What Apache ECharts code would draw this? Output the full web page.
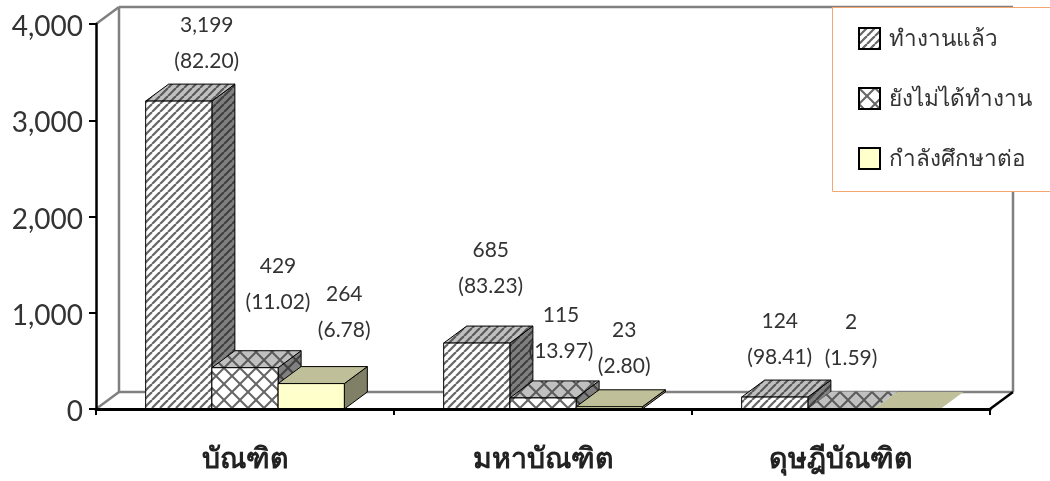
<!DOCTYPE html>
<html><head><meta charset="utf-8">
<style>html,body{margin:0;padding:0;background:#fff}#c{width:1050px;height:481px}</style>
<script src="https://cdn.jsdelivr.net/npm/echarts@6/dist/echarts.min.js"></script>
</head><body><div id="c"></div>
<script>
const categories = ['บัณฑิต', 'มหาบัณฑิต', 'ดุษฎีบัณฑิต'];
const seriesNames = ['ทำงานแล้ว', 'ยังไม่ได้ทำงาน', 'กำลังศึกษาต่อ'];
const employed = [3199, 685, 124];
const notEmployed = [429, 115, 2];
const studying = [264, 23, 0];
const employedPct = ['82.20', '83.23', '98.41'];
const notEmployedPct = ['11.02', '13.97', '1.59'];
const studyingPct = ['6.78', '2.80', null];

const FONT = 'Lato, "Noto Sans", sans-serif';
const DEPTH_X = 23, DEPTH_Y = 17;

function hatch(size, bg, ink, width, cross) {
  const c = document.createElement('canvas');
  c.width = c.height = size;
  const g = c.getContext('2d');
  g.fillStyle = bg; g.fillRect(0, 0, size, size);
  g.strokeStyle = ink; g.lineWidth = width;
  const up = () => { for (let k = -size; k <= size; k += size) { g.beginPath(); g.moveTo(k, size); g.lineTo(k + size, 0); g.stroke(); } };
  const down = () => { for (let k = -size; k <= size; k += size) { g.beginPath(); g.moveTo(k, 0); g.lineTo(k + size, size); g.stroke(); } };
  up(); if (cross) down();
  return { image: c, repeat: 'repeat' };
}
const styles = [
  { front: hatch(8, '#ffffff', '#666666', 2.2), top: hatch(8, '#c0c0c0', '#5a5a5a', 2.2), side: hatch(8, '#808080', '#404040', 2.2) },
  { front: hatch(16, '#ffffff', '#666666', 2, true), top: hatch(16, '#c0c0c0', '#5a5a5a', 2, true), side: hatch(16, '#808080', '#404040', 2, true) },
  { front: '#ffffcc', top: '#bfbf99', side: '#808066' }
];

/* Hand-placed data labels: offset of the label centre from the bar's front top centre */
const labelShift = [
  [[28, -58], [14, -74.5], [5, -57.5]],
  [[33, -83], [18, -65], [10, -69]],
  [[33, -71], [15, -59], [0, 0]]
];

function barSeries(idx, values, pcts) {
  const st = styles[idx];
  return {
    name: seriesNames[idx],
    type: 'custom',
    z: 3,
    itemStyle: { color: st.front, borderColor: '#000', borderWidth: 1 },
    encode: { x: 0, y: 1 },
    data: values.map((v, i) => [i, v]),
    renderItem(params, api) {
      const cat = api.value(0), val = api.value(1);
      const bandW = api.size([1, 0])[0];
      const w = bandW / 4.5;
      const base = api.coord([cat, 0]);
      const top = api.coord([cat, val]);
      const x0 = base[0] + (idx - 1.5) * w, x1 = x0 + w;
      const y0 = base[1], y1 = top[1];
      const tall = y0 - y1 >= 1.5;
      const ln = tall ? { stroke: '#000', lineWidth: 1 } : { stroke: null };
      const children = [
        { type: 'polygon', shape: { points: [[x1, y0], [x1 + DEPTH_X, y0 - DEPTH_Y], [x1 + DEPTH_X, y1 - DEPTH_Y], [x1, y1]] }, style: Object.assign({ fill: st.side }, ln) },
        { type: 'polygon', shape: { points: [[x0, y1], [x0 + DEPTH_X, y1 - DEPTH_Y], [x1 + DEPTH_X, y1 - DEPTH_Y], [x1, y1]] }, style: Object.assign({ fill: st.top }, ln) },
        { type: 'rect', shape: { x: x0, y: y1, width: w, height: y0 - y1 }, style: Object.assign({ fill: st.front }, ln) }
      ];
      if (pcts[cat] !== null) {
        const s = labelShift[idx][cat];
        const cx = (x0 + x1) / 2 + s[0], cy = y1 + s[1];
        const txt = { font: '21px ' + FONT, fill: '#333', align: 'center', verticalAlign: 'middle' };
        children.push({ type: 'text', z2: 50, silent: true, style: Object.assign({ x: cx, y: cy - 18, text: val.toLocaleString('en-US') }, txt) });
        children.push({ type: 'text', z2: 50, silent: true, style: Object.assign({ x: cx, y: cy + 18, text: '(' + pcts[cat] + ')' }, txt) });
      }
      return { type: 'group', children };
    }
  };
}

const wallSeries = {
  type: 'custom', z: 1, silent: true, tooltip: { show: false },
  data: [[0, 0]], encode: { x: 0, y: 1 },
  renderItem(params) {
    const g = params.coordSys;
    const L = g.x, T = g.y, R = g.x + g.width, B = g.y + g.height;
    const grey = { stroke: '#808080', lineWidth: 2.5, fill: null };
    const l = (a, b, c, d, st) => ({ type: 'line', shape: { x1: a, y1: b, x2: c, y2: d }, style: st });
    return { type: 'group', children: [
      l(L + DEPTH_X, T - DEPTH_Y, R + DEPTH_X, T - DEPTH_Y, grey),
      l(L + DEPTH_X, T - DEPTH_Y, L + DEPTH_X, B - DEPTH_Y, grey),
      l(R + DEPTH_X, T - DEPTH_Y, R + DEPTH_X, B - DEPTH_Y, grey),
      l(L + DEPTH_X, B - DEPTH_Y, R + DEPTH_X, B - DEPTH_Y, grey),
      l(L, T, L + DEPTH_X, T - DEPTH_Y, grey),
      l(L, B, L + DEPTH_X, B - DEPTH_Y, grey),
      l(R, B, R + DEPTH_X, B - DEPTH_Y, { stroke: '#000', lineWidth: 2.5 })
    ] };
  }
};

const chart = echarts.init(document.getElementById('c'), null, { renderer: 'canvas' });
chart.setOption({
  animation: false,
  backgroundColor: '#fff',
  grid: { left: 96, top: 24, width: 894, height: 385 },
  xAxis: {
    type: 'category', data: categories,
    axisLine: { lineStyle: { color: '#000', width: 3 } },
    axisTick: { show: true, length: 6, alignWithLabel: false, lineStyle: { color: '#000', width: 2 } },
    axisLabel: { fontFamily: FONT, fontWeight: 'bold', fontSize: 28.5, color: '#222', margin: 35, interval: 0 },
    z: 4
  },
  yAxis: {
    type: 'value', min: 0, max: 4000, interval: 1000,
    splitLine: { show: false },
    axisLine: { show: true, lineStyle: { color: '#000', width: 2.5 } },
    axisTick: { show: true, length: 7, lineStyle: { color: '#000', width: 2 } },
    axisLabel: { fontFamily: FONT, fontSize: 28, color: '#333', margin: 13, verticalAlign: 'top', lineHeight: 6, formatter: v => v.toLocaleString('en-US') },
    z: 4
  },
  legend: {
    show: true, orient: 'vertical', left: 858, top: 27, itemGap: 37, itemWidth: 21, itemHeight: 21, padding: 0,
    icon: 'rect',
    data: seriesNames, selectedMode: false, z: 6,
    textStyle: { fontFamily: FONT, fontSize: 22.5, color: '#333', padding: [0, 0, 0, 4] }
  },
  graphic: [{ type: 'rect', z: 5, silent: true, shape: { x: 832.5, y: 7.5, width: 240, height: 184 }, style: { fill: '#fff', stroke: '#f4a671', lineWidth: 1 } }],
  series: [wallSeries, barSeries(0, employed, employedPct), barSeries(1, notEmployed, notEmployedPct), barSeries(2, studying, studyingPct)]
});
</script></body></html>
